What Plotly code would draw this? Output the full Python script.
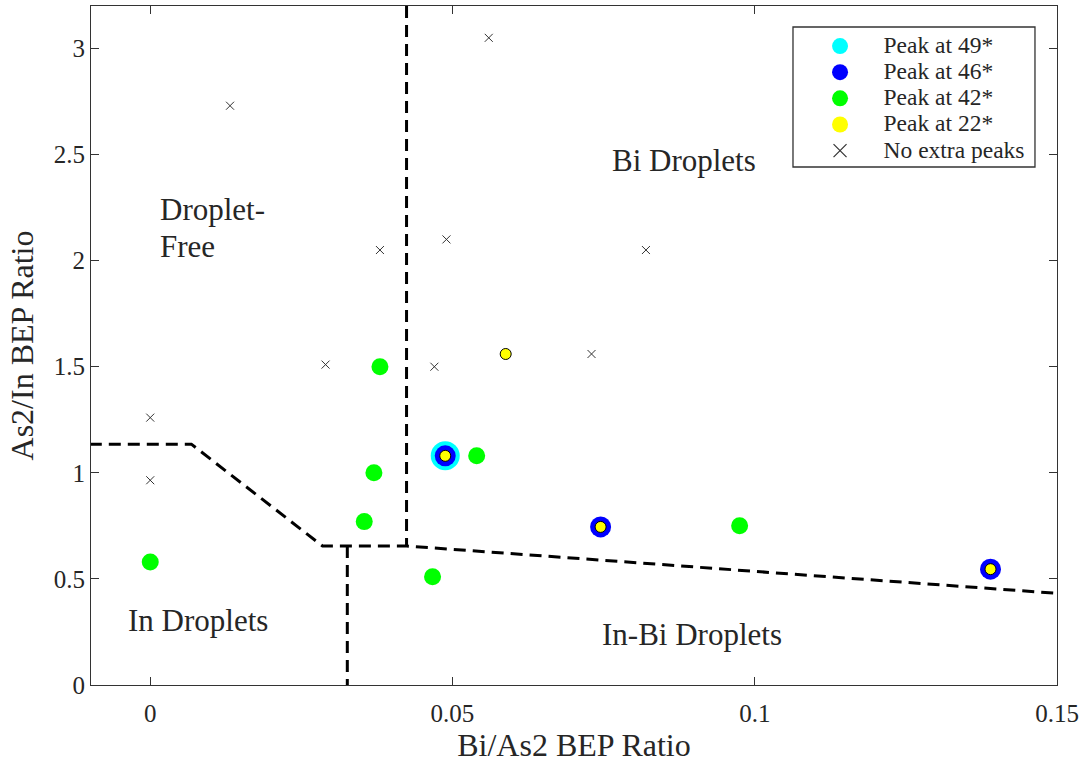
import plotly.graph_objects as go

# ---- data ----
none_x = [0.0132, 0.056, 0.038, 0.049, 0.082, 0.029, 0.047, 0.073, 0.0, 0.0]
none_y = [2.73, 3.05, 2.05, 2.10, 2.05, 1.51, 1.50, 1.56, 1.26, 0.965]

p42_x = [0.0, 0.038, 0.037, 0.0354, 0.0467, 0.054, 0.0975]
p42_y = [0.58, 1.50, 1.00, 0.77, 0.51, 1.08, 0.75]

p49_x = [0.0488]
p49_y = [1.08]

p46_x = [0.0488, 0.0745, 0.139]
p46_y = [1.08, 0.745, 0.546]

p22_x = [0.0488, 0.0745, 0.139, 0.0588]
p22_y = [1.08, 0.745, 0.546, 1.56]

# region boundaries (dashed)
bound_x = [-0.01, 0.0068, 0.0285, 0.0424, 0.15]
bound_y = [1.135, 1.135, 0.655, 0.655, 0.432]
vline_top_x = [0.0424, 0.0424]
vline_top_y = [3.2, 0.655]
vline_bot_x = [0.0326, 0.0326]
vline_bot_y = [0.655, 0.0]

x_ticks = [0, 0.05, 0.1, 0.15]
x_tick_text = ["0", "0.05", "0.1", "0.15"]
y_ticks = [0, 0.5, 1, 1.5, 2, 2.5, 3]
y_tick_text = ["0", "0.5", "1", "1.5", "2", "2.5", "3"]

legend_names = ["Peak at 49*", "Peak at 46*", "Peak at 42*", "Peak at 22*", "No extra peaks"]

FONT = "Liberation Serif, Times New Roman, serif"
TXT = "#262626"


def lg(name):
    return '<span style="font-size:23.5px">' + "\u00a0" * 4 + name + "</span>"


fig = go.Figure()
line_style = dict(color="black", width=3, dash="12px,7px")
for xs, ys in [(bound_x, bound_y), (vline_top_x, vline_top_y), (vline_bot_x, vline_bot_y)]:
    fig.add_trace(go.Scatter(x=xs, y=ys, mode="lines", line=line_style,
                             showlegend=False, hoverinfo="skip"))

fig.add_trace(go.Scatter(x=p49_x, y=p49_y, mode="markers", showlegend=False,
                         marker=dict(color="#00FFFF", size=29, line=dict(width=0))))
fig.add_trace(go.Scatter(x=p46_x, y=p46_y, mode="markers", showlegend=False,
                         marker=dict(color="#0000FF", size=21, line=dict(width=0))))
fig.add_trace(go.Scatter(x=p42_x, y=p42_y, mode="markers", showlegend=False,
                         marker=dict(color="#00FF00", size=17, line=dict(width=0))))
fig.add_trace(go.Scatter(x=p22_x, y=p22_y, mode="markers", showlegend=False,
                         marker=dict(color="#FFFF00", size=11, line=dict(color="black", width=1))))
fig.add_trace(go.Scatter(x=none_x, y=none_y, mode="markers", showlegend=False,
                         marker=dict(symbol="x-thin", color="#333333", size=8,
                                     line=dict(color="#333333", width=1))))

# legend entries
for name, col in zip(legend_names[:4], ["#00FFFF", "#0000FF", "#00FF00", "#FFFF00"]):
    fig.add_trace(go.Scatter(x=[None], y=[None], mode="markers", name=lg(name),
                             marker=dict(color=col, size=16, line=dict(width=0))))
fig.add_trace(go.Scatter(x=[None], y=[None], mode="markers", name=lg(legend_names[4]),
                         marker=dict(symbol="x-thin", color="#333333", size=13,
                                     line=dict(color="#333333", width=1.2))))

annots = [
    dict(x=0.0013, y=2.242, text="Droplet-", xanchor="left"),
    dict(x=0.0013, y=2.068, text="Free", xanchor="left"),
    dict(x=0.0883, y=2.47, text="Bi Droplets", xanchor="center"),
    dict(x=0.00786, y=0.306, text="In Droplets", xanchor="center"),
    dict(x=0.0896, y=0.24, text="In-Bi Droplets", xanchor="center"),
]
for a in annots:
    fig.add_annotation(showarrow=False, xref="x", yref="y", yanchor="middle",
                       font=dict(family=FONT, size=31, color=TXT), **a)

# legend frame
fig.add_shape(type="rect", xref="paper", yref="paper",
              x0=0.7267, x1=0.9772, y0=0.7629, y1=0.9691,
              line=dict(color="#333333", width=1.3), fillcolor="rgba(0,0,0,0)", layer="above")

axis_common = dict(showgrid=False, zeroline=False, showline=True, linecolor="#333333",
                   linewidth=1, mirror="ticks", ticks="inside", ticklen=8,
                   tickcolor="#333333",
                   tickfont=dict(family=FONT, size=25, color=TXT))

fig.update_layout(
    width=1086, height=763,
    margin=dict(l=91, r=29, t=6, b=78),
    paper_bgcolor="white", plot_bgcolor="white",
    xaxis=dict(range=[-0.0098, 0.15], tickvals=x_ticks, ticktext=x_tick_text,
               ticklabelstandoff=6,
               title=dict(text="Bi/As2 BEP Ratio", font=dict(family=FONT, size=32, color=TXT),
                          standoff=4),
               **axis_common),
    yaxis=dict(range=[0, 3.2], tickvals=y_ticks, ticktext=y_tick_text,
               title=dict(text="As2/In BEP Ratio", font=dict(family=FONT, size=32, color=TXT),
                          standoff=10),
               **axis_common),
    legend=dict(x=0.7547, y=0.9676, xanchor="left", yanchor="top",
                bgcolor="rgba(0,0,0,0)", borderwidth=0,
                font=dict(family=FONT, size=17.8, color=TXT),
                itemsizing="trace", tracegroupgap=0),
    showlegend=True,
)

fig.write_html("out.html")
